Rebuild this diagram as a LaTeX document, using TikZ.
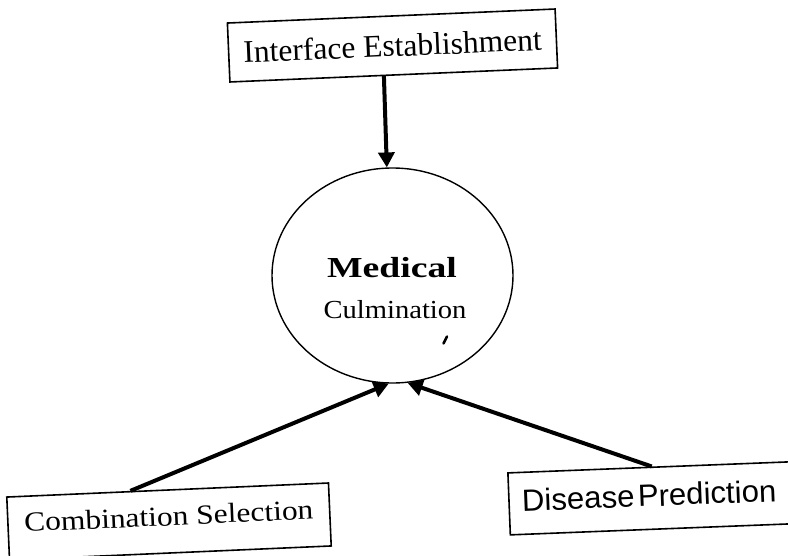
\documentclass[tikz,border=0pt]{standalone}
\usepackage{fontspec}
\setmainfont{Liberation Serif}
\newfontfamily\labelsans{Liberation Sans}
\usetikzlibrary{shapes.geometric,arrows.meta,calc}
\begin{document}
\begin{tikzpicture}[x=1pt,y=-1pt,
  box/.style={draw, line width=1.6pt, inner sep=0pt, align=center},
  flow/.style={line width=4pt, -{Triangle[length=15pt,width=16pt]}},
]
\useasboundingbox (0,0) rectangle (788,555);
\clip (0,0) rectangle (788,555);
\fill[white] (0,0) rectangle (788,555);

% the three input stages (slightly tilted boxes)
\node[box, rotate=2.45, minimum width=328pt, minimum height=59pt,
      text height=24pt, text depth=2pt] (iface) at (392.5,45.5)
  {\fontsize{31.5}{36}\selectfont Interface Establishment};
\node[box, rotate=2.5, minimum width=322pt, minimum height=63pt,
      text height=20pt, text depth=12pt] (combo) at (169,521.5)
  {\fontsize{27.6}{32}\selectfont\scalebox{1.14}[1]{Combination Selection}};
\node[box, rotate=2.25, minimum height=62pt, text width=274pt, inner xsep=13pt,
      align=left, text height=22pt, text depth=6pt] (disease) at (659,498)
  {\labelsans\fontsize{30.7}{36}\selectfont\scalebox{1.015}[1]{Disease Prediction}};

% central outcome
\node[draw, ellipse, line width=1.4pt, minimum width=241pt, minimum height=215pt,
      inner sep=0pt] (med) at (392.5,275.5) {};
\node[anchor=base, inner sep=0pt] (medtitle) at (392,277)
  {\fontsize{29}{32}\selectfont\bfseries\scalebox{1.3}[1]{Medical}};
\node[anchor=base, inner sep=0pt] (medsub) at (395,318)
  {\fontsize{26}{30}\selectfont\scalebox{1.1}[1]{Culmination}};

% connectors into the outcome
\draw[flow] ($(iface.south west)!0.47!(iface.south east)$) -- (med.93);
\draw[flow] ($(combo.north west)!0.385!(combo.north east)$) -- (med.268);
\draw[flow] ($(disease.north west)!0.48!(disease.north east)$) -- (med.278);

% small ink mark inside the ellipse
\draw[line width=2.6pt, line cap=round] (443.5,343.5) -- (447,336.5);
\end{tikzpicture}
\end{document}
